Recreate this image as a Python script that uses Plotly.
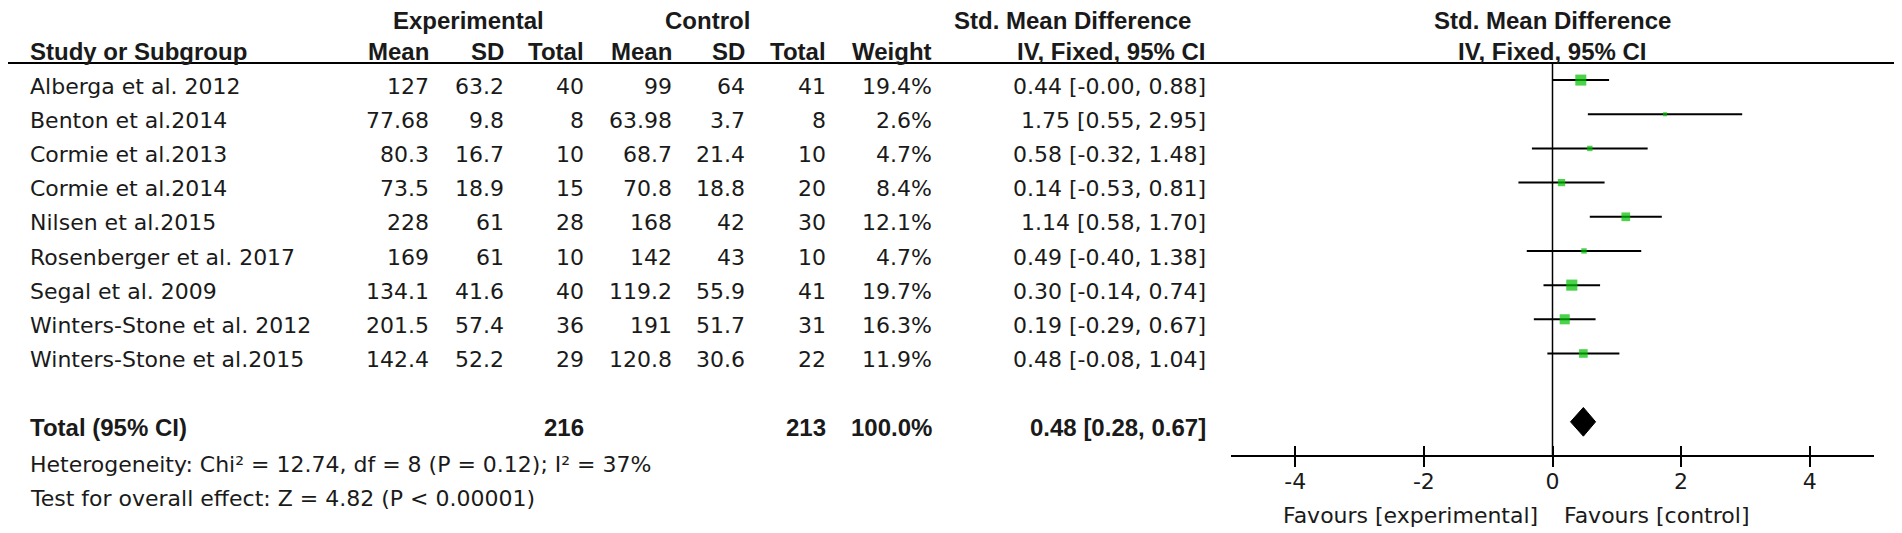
import plotly.graph_objects as go

W, H = 1902, 533
OFF = 8  # browser body margin, content is shifted by this much
FW, FH = W - OFF, H - OFF

# study rows
studies = ["Alberga et al. 2012", "Benton et al.2014", "Cormie et al.2013",
           "Cormie et al.2014", "Nilsen et al.2015", "Rosenberger et al. 2017",
           "Segal et al. 2009", "Winters-Stone et al. 2012",
           "Winters-Stone et al.2015"]
exp_mean = [127, 77.68, 80.3, 73.5, 228, 169, 134.1, 201.5, 142.4]
exp_sd = [63.2, 9.8, 16.7, 18.9, 61, 61, 41.6, 57.4, 52.2]
exp_n = [40, 8, 10, 15, 28, 10, 40, 36, 29]
ctl_mean = [99, 63.98, 68.7, 70.8, 168, 142, 119.2, 191, 120.8]
ctl_sd = [64, 3.7, 21.4, 18.8, 42, 43, 55.9, 51.7, 30.6]
ctl_n = [41, 8, 10, 20, 30, 10, 41, 31, 22]
weight = [19.4, 2.6, 4.7, 8.4, 12.1, 4.7, 19.7, 16.3, 11.9]
smd = [0.44, 1.75, 0.58, 0.14, 1.14, 0.49, 0.30, 0.19, 0.48]
ci_lo = [-0.00, 0.55, -0.32, -0.53, 0.58, -0.40, -0.14, -0.29, -0.08]
ci_hi = [0.88, 2.95, 1.48, 0.81, 1.70, 1.38, 0.74, 0.67, 1.04]

# pooled result
total_exp_n = 216
total_ctl_n = 213
total_weight = "100.0%"
pooled = [0.28, 0.48, 0.67]  # lo, est, hi

heterogeneity = "Heterogeneity: Chi\u00b2 = 12.74, df = 8 (P = 0.12); I\u00b2 = 37%"
overall = "Test for overall effect: Z = 4.82 (P &lt; 0.00001)"

x_ticks = [-4, -2, 0, 2, 4]
favours = ["Favours [experimental]", "Favours [control]"]

FONT = "DejaVu Sans, sans-serif"
FONT_B = "Liberation Sans, Arial, sans-serif"
TXT = "#1a1a1a"
FS, FS_B = 22, 24
ROWS = list(range(1, len(studies) + 1))
TOTAL_ROW = 11
TXT_OFF = 0.18  # text sits slightly below the CI line

# vertical scale: row 0.5 at px 63 (header rule), row 12 at px 456 (axis)
Y_TOP, Y_AXIS = 63, 456
STEP = (Y_AXIS - Y_TOP) / 11.5


def px(x):
    return (x - OFF) / FW


def row_at(p):
    return 0.5 + (p - Y_TOP) / STEP


def ann(text, x, y, align="right", bold=False, xref="paper"):
    if bold:
        font = dict(family=FONT_B, size=FS_B, color=TXT)
        text = "<b>" + text + "</b>"
    else:
        font = dict(family=FONT, size=FS, color=TXT)
    return dict(text=text, x=x, y=y, xref=xref, yref="y", xanchor=align,
                yanchor="middle", showarrow=False, font=font)


def ci_text(e, lo, hi):
    return f"{e:.2f} [{lo:.2f}, {hi:.2f}]"


fig = go.Figure()

# study squares with CI whiskers
fig.add_trace(go.Scatter(
    x=smd, y=ROWS, mode="markers",
    marker=dict(symbol="square", color="#00c000",
                size=[2.5 * w ** 0.5 for w in weight], line=dict(width=0)),
    error_x=dict(type="data", symmetric=False,
                 array=[h - e for h, e in zip(ci_hi, smd)],
                 arrayminus=[e - lo for e, lo in zip(smd, ci_lo)],
                 color="black", thickness=2, width=0),
    hoverinfo="skip", showlegend=False))

# pooled diamond
half = 0.42
fig.add_trace(go.Scatter(
    x=[pooled[0], pooled[1], pooled[2], pooled[1], pooled[0]],
    y=[TOTAL_ROW, TOTAL_ROW - half, TOTAL_ROW, TOTAL_ROW + half, TOTAL_ROW],
    mode="lines", fill="toself", fillcolor="black",
    line=dict(color="black", width=1), hoverinfo="skip", showlegend=False))

# invisible trace on the overlay axis so its ticks render
fig.add_trace(go.Scatter(x=[-5, 5], y=[0.5, 0.5], xaxis="x2", mode="markers",
                         marker=dict(opacity=0), hoverinfo="skip",
                         showlegend=False))

annotations = []

# column x positions (px, right edges)
c_name = 28
c_emean, c_esd, c_en = 431, 506, 586
c_cmean, c_csd, c_cn = 674, 747, 828
c_w, c_ci = 934, 1208

h1, h2 = row_at(20), row_at(51)
annotations += [
    ann("Experimental", px(468), h1, "center", True),
    ann("Control", px(707), h1, "center", True),
    ann("Std. Mean Difference", px(1072), h1, "center", True),
    ann("Std. Mean Difference", 0, h1, "center", True, xref="x"),
    ann("Study or Subgroup", px(c_name), h2, "left", True),
    ann("Mean", px(c_emean), h2, bold=True),
    ann("SD", px(c_esd), h2, bold=True),
    ann("Total", px(c_en), h2, bold=True),
    ann("Mean", px(c_cmean), h2, bold=True),
    ann("SD", px(c_csd), h2, bold=True),
    ann("Total", px(c_cn), h2, bold=True),
    ann("Weight", px(c_w), h2, bold=True),
    ann("IV, Fixed, 95% CI", px(c_ci), h2, bold=True),
    ann("IV, Fixed, 95% CI", 0, h2, "center", True, xref="x"),
]

for i, r in enumerate(ROWS):
    y = r + TXT_OFF
    annotations += [
        ann(studies[i], px(c_name), y, "left"),
        ann(f"{exp_mean[i]:g}", px(c_emean), y),
        ann(f"{exp_sd[i]:g}", px(c_esd), y),
        ann(str(exp_n[i]), px(c_en), y),
        ann(f"{ctl_mean[i]:g}", px(c_cmean), y),
        ann(f"{ctl_sd[i]:g}", px(c_csd), y),
        ann(str(ctl_n[i]), px(c_cn), y),
        ann(f"{weight[i]:.1f}%", px(c_w), y),
        ann(ci_text(smd[i], ci_lo[i], ci_hi[i]), px(c_ci), y),
    ]

yt = TOTAL_ROW + TXT_OFF
annotations += [
    ann("Total (95% CI)", px(c_name), yt, "left", True),
    ann(str(total_exp_n), px(c_en), yt, bold=True),
    ann(str(total_ctl_n), px(c_cn), yt, bold=True),
    ann(total_weight, px(c_w), yt, bold=True),
    ann(ci_text(pooled[1], pooled[0], pooled[2]), px(c_ci), yt, bold=True),
    ann(heterogeneity, px(c_name), row_at(464), "left"),
    ann(overall, px(c_name), row_at(498), "left"),
    ann(favours[0], -0.2, row_at(515), "right", xref="x"),
    ann(favours[1], 0.15, row_at(515), "left", xref="x"),
]

xdom = [px(1231), px(1874)]
axis_pos = (H - Y_AXIS) / FH
fig.update_layout(
    width=FW, height=FH, margin=dict(l=0, r=0, t=0, b=0),
    paper_bgcolor="white", plot_bgcolor="rgba(0,0,0,0)",
    font=dict(family=FONT, size=FS, color=TXT),
    annotations=annotations,
    shapes=[
        dict(type="line", xref="paper", yref="y", x0=px(6), x1=px(1895),
             y0=0.5, y1=0.5, line=dict(color="black", width=2)),
        dict(type="line", xref="x", yref="y", x0=0, x1=0, y0=0.5, y1=12,
             line=dict(color="black", width=1.5), layer="below"),
    ],
    xaxis=dict(domain=xdom, range=[-5, 5], anchor="free", position=axis_pos,
               showgrid=False, zeroline=False,
               showline=True, linecolor="black", linewidth=2,
               ticks="outside", ticklen=10, tickwidth=2, tickcolor="black",
               tickvals=x_ticks, ticktext=[str(t) for t in x_ticks],
               ticklabelstandoff=-4,
               tickfont=dict(family=FONT, size=FS, color=TXT)),
    xaxis2=dict(domain=xdom, range=[-5, 5], overlaying="x", anchor="free",
                position=axis_pos, side="bottom", showgrid=False,
                showline=False, zeroline=False,
                ticks="inside", ticklen=10, tickwidth=2, tickcolor="black",
                tickvals=x_ticks, showticklabels=False),
    yaxis=dict(domain=[0, 1], range=[row_at(H), row_at(OFF)], visible=False),
)

fig.write_html("out.html", config={"displayModeBar": False})
